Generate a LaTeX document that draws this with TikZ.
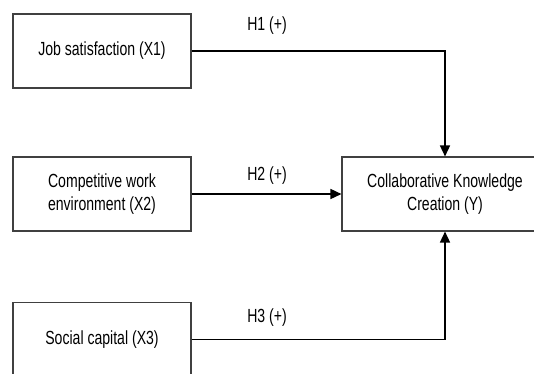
\documentclass[tikz,border=0pt]{standalone}
\usepackage{fontspec}
\setmainfont{Liberation Sans}
\newfontfamily\tallfont[FakeStretch=0.74]{Liberation Sans}
\usetikzlibrary{arrows.meta}
\begin{document}
\begin{tikzpicture}[x=1pt,y=-1pt,
  box/.style={draw=black!75,line width=1.1pt,fill=white,minimum width=178pt,minimum height=74pt,align=center,inner sep=0pt,font=\tallfont\fontsize{19}{23.5}\selectfont},
  conn/.style={draw=black,line width=1.5pt,-{Triangle[length=11pt,width=10pt]}},
  lab/.style={font=\tallfont\fontsize{19}{22}\selectfont,inner sep=0pt}]
\useasboundingbox (0,0) rectangle (534,373);
\node[box] (x1) at (102,51) {Job satisfaction (X1)};
\node[box] (x2) at (102,194) {Competitive work\\environment (X2)};
\node[box] (x3) at (102,339.5) {Social capital (X3)};
\node[box,minimum width=206pt] (y) at (445,194) {Collaborative Knowledge\\Creation (Y)};
\draw[conn] (x1.east) -| (y.north);
\draw[conn] (x2.east) -- (x2.east -| y.west);
\draw[conn] (x3.east) -| (y.south);
\node[lab] (h1) at (267,26) {H1 (+)};
\node[lab] (h2) at (267,176) {H2 (+)};
\node[lab] (h3) at (267,318) {H3 (+)};
\end{tikzpicture}
\end{document}
